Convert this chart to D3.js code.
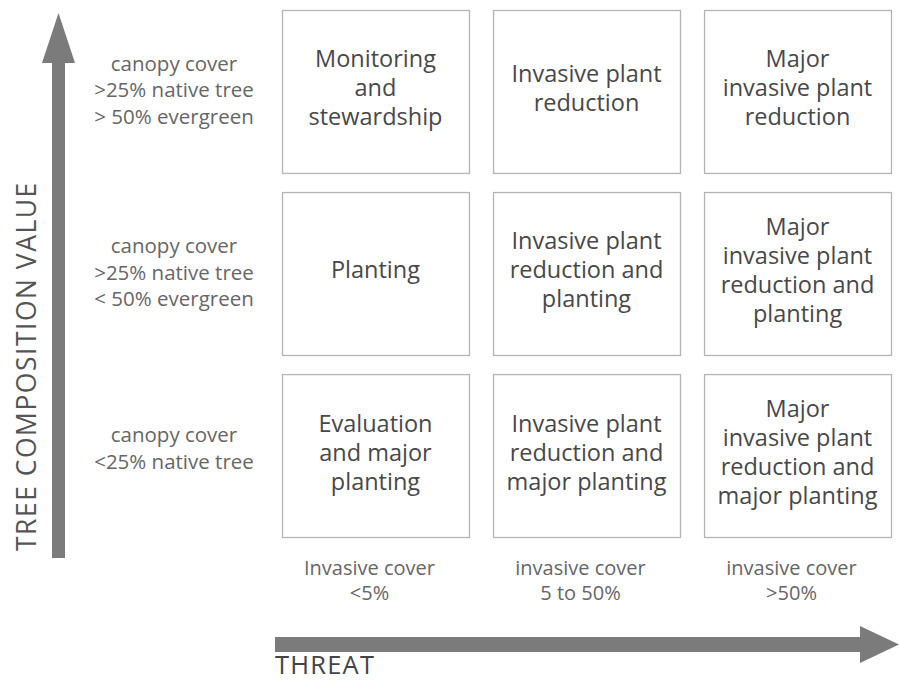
<!DOCTYPE html>
<html>
<head>
<meta charset="utf-8">
<script src="https://cdn.jsdelivr.net/npm/d3@7"></script>
<style>
  body { margin: 0; background: #fff; }
  svg text { font-family: "Open Sans", "Noto Sans", sans-serif; }
</style>
</head>
<body>
<script>
// threat levels (columns) and tree composition levels (rows, top to bottom)
const threatLevels = ['low', 'medium', 'high'];
const threatLabels = [['Invasive cover', '<5%'], ['invasive cover', '5 to 50%'], ['invasive cover', '>50%']];
const compositionLevels = ['high', 'medium', 'low'];
const compositionLabels = [
    ['canopy cover', '>25% native tree', '> 50% evergreen'],
    ['canopy cover', '>25% native tree', '< 50% evergreen'],
    ['canopy cover', '<25% native tree']
];
// recommended action per cell, row by row
const actions = [
    [['Monitoring', 'and', 'stewardship'], ['Invasive plant', 'reduction'], ['Major', 'invasive plant', 'reduction']],
    [['Planting'], ['Invasive plant', 'reduction and', 'planting'], ['Major', 'invasive plant', 'reduction and', 'planting']],
    [['Evaluation', 'and major', 'planting'], ['Invasive plant', 'reduction and', 'major planting'], ['Major', 'invasive plant', 'reduction and', 'major planting']]
];

const width = 899;
const height = 682;

const svg = d3.select('body').append('svg')
    .attr('width', width)
    .attr('height', height);

const xscale = d3.scaleBand().domain(threatLevels).range([282, 891]).paddingInner(0.114);
const yscale = d3.scaleBand().domain(compositionLevels).range([10, 537]).paddingInner(0.105);

const cells = [];
compositionLevels.forEach((row, i) => {
    threatLevels.forEach((col, j) => {
        cells.push({ row: row, col: col, lines: actions[i][j] });
    });
});

const lineHeight = 29;

const cell = svg.selectAll('g.cell').data(cells).join('g')
    .attr('class', 'cell')
    .attr('transform', (d) => `translate(${xscale(d.col)}, ${yscale(d.row)})`);

cell.append('rect')
    .attr('x', 0.5)
    .attr('y', 0.5)
    .attr('width', xscale.bandwidth())
    .attr('height', yscale.bandwidth())
    .attr('fill', '#fff')
    .attr('stroke', '#b4b4b4')
    .attr('stroke-width', 1.3);

cell.append('text')
    .attr('text-anchor', 'middle')
    .attr('fill', '#484848')
    .style('font-size', '23.5px')
    .selectAll('tspan')
    .data((d) => d.lines.map((t, k) => ({ t: t, k: k, n: d.lines.length })))
    .join('tspan')
    .attr('x', xscale.bandwidth() / 2)
    .attr('y', (d) => yscale.bandwidth() / 2 + (d.k - (d.n - 1) / 2) * lineHeight + 5)
    .text((d) => d.t);

// row labels on the left
svg.selectAll('text.rowlabel').data(compositionLevels).join('text')
    .attr('class', 'rowlabel')
    .attr('text-anchor', 'middle')
    .attr('fill', '#666')
    .style('font-size', '20.5px')
    .selectAll('tspan')
    .data((d, i) => compositionLabels[i].map((t, k, arr) => ({ t: t, k: k, n: arr.length, row: d })))
    .join('tspan')
    .attr('x', 174)
    .attr('y', (d) => yscale(d.row) + yscale.bandwidth() / 2 + (d.k - (d.n - 1) / 2) * 26.5 + (d.n === 3 ? 6 : 0))
    .text((d) => d.t);

// column labels under the grid
svg.selectAll('text.collabel').data(threatLevels).join('text')
    .attr('class', 'collabel')
    .attr('text-anchor', 'middle')
    .attr('fill', '#666')
    .style('font-size', '20px')
    .selectAll('tspan')
    .data((d, i) => threatLabels[i].map((t, k) => ({ t: t, k: k, col: d })))
    .join('tspan')
    .attr('x', (d) => xscale(d.col) + xscale.bandwidth() / 2 - 6)
    .attr('y', (d) => 575 + d.k * 25)
    .text((d) => d.t);

// arrows
const arrowColor = '#7b7b7b';
svg.append('path')
    .attr('fill', arrowColor)
    .attr('d', 'M52,558 L52,63 L42,63 L58.5,13 L75,63 L65,63 L65,558 Z');

svg.append('path')
    .attr('fill', arrowColor)
    .attr('d', 'M275,637 L860,637 L860,626 L899,644.5 L860,663 L860,652 L275,652 Z');

svg.append('text')
    .attr('x', 275)
    .attr('y', 674)
    .attr('fill', '#444')
    .style('font-size', '25.5px')
    .style('letter-spacing', '1.2px')
    .text('THREAT');

svg.append('text')
    .attr('transform', 'translate(36, 551) rotate(-90)')
    .attr('fill', '#555')
    .style('font-size', '26.5px')
    .style('letter-spacing', '1.5px')
    .text('TREE COMPOSITION VALUE');
</script>
</body>
</html>
